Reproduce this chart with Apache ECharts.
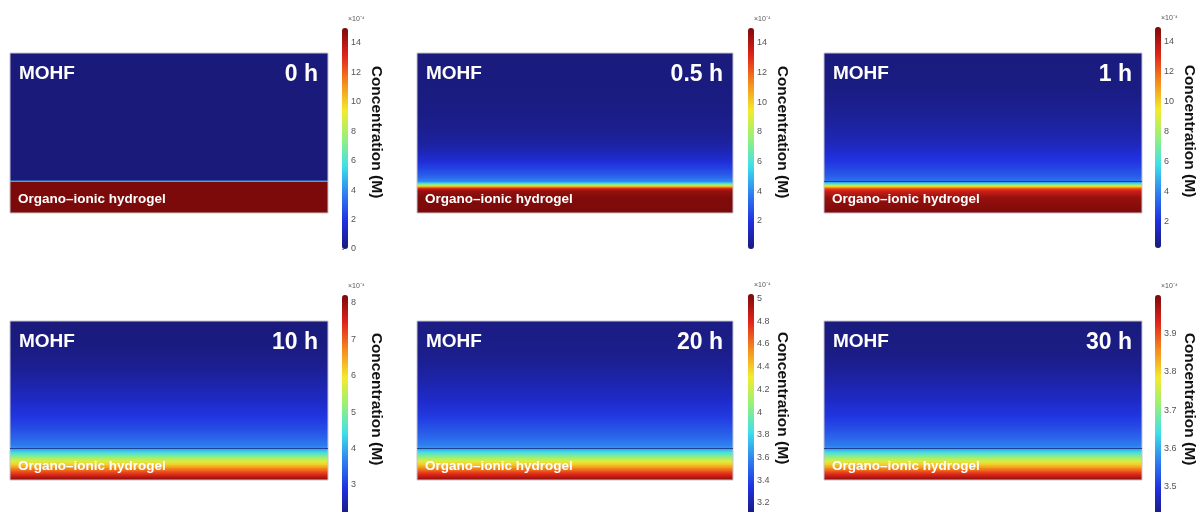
<!DOCTYPE html>
<html>
<head>
<meta charset="utf-8">
<script src="https://cdn.jsdelivr.net/npm/echarts@6/dist/echarts.min.js"></script>
<style>
  html, body { margin: 0; padding: 0; background: #ffffff; }
  #chart { width: 1197px; height: 512px; }
</style>
</head>
<body>
<div id="chart"></div>
<script>
// Snapshot labels
const timeLabels = ['0 h', '0.5 h', '1 h', '10 h', '20 h', '30 h'];
const upperLayerName = 'MOHF';
const lowerLayerName = 'Organo–ionic hydrogel';
const colorbarTitle = 'Concentration (M)';
const colorbarUnit = '×10⁻⁴';

// Height above the bottom of the domain (mm): hydrogel 0–1, MOHF 1–5
const height0h = [0, 0.99, 1.0, 1.03, 1.04, 5.0];
const heightEarly = [0, 0.5, 0.7, 0.75, 0.8, 0.85, 0.9, 0.95, 1.0, 1.1, 1.2, 1.4, 1.6, 1.8, 2.0, 2.2, 2.6, 3.0, 3.5, 4.0, 5.0];
const heightLate = [0, 0.1, 0.2, 0.3, 0.4, 0.5, 0.6, 0.7, 0.8, 0.9, 1.0, 1.1, 1.3, 1.6, 2.0, 2.5, 3.0, 3.5, 4.0, 4.5, 5.0];

// Concentration profiles (×10⁻⁴ M)
const conc0h  = [15, 15, 5.0, 5.0, 0, 0];
const conc05h = [15.0, 14.9, 14.5, 13.9, 12.6, 10.0, 7.6, 5.4, 4.0, 3.4, 3.0, 2.4, 1.85, 1.4, 1.05, 0.8, 0.5, 0.35, 0.25, 0.2, 0.15];
const conc1h  = [15.0, 14.5, 13.5, 12.9, 11.6, 9.6, 7.3, 5.3, 3.6, 3.3, 3.0, 2.6, 2.2, 1.9, 1.6, 1.35, 1.0, 0.75, 0.5, 0.35, 0.25];
const conc10h = [8.1, 7.8, 7.4, 7.05, 6.65, 6.2, 5.8, 5.4, 4.9, 4.4, 3.9, 3.7, 3.52, 3.28, 3.04, 2.8, 2.62, 2.44, 2.33, 2.29, 2.26];
const conc20h = [5.0, 4.9, 4.79, 4.67, 4.54, 4.4, 4.27, 4.13, 3.98, 3.83, 3.66, 3.6, 3.54, 3.47, 3.39, 3.31, 3.25, 3.2, 3.16, 3.15, 3.14];
const conc30h = [3.99, 3.96, 3.926, 3.89, 3.85, 3.81, 3.77, 3.73, 3.687, 3.64, 3.59, 3.573, 3.555, 3.533, 3.51, 3.487, 3.47, 3.453, 3.441, 3.439, 3.436];

// Colour range of each snapshot (×10⁻⁴ M)
const rangeMin = [0, 0.1, 0.2, 2.25, 3.12, 3.434];
const rangeMax = [15, 15, 15, 8.22, 5.04, 4.0];

// Colorbar tick labels
const ticks0h  = [0, 2, 4, 6, 8, 10, 12, 14];
const ticks05h = [2, 4, 6, 8, 10, 12, 14];
const ticks1h  = [2, 4, 6, 8, 10, 12, 14];
const ticks10h = [3, 4, 5, 6, 7, 8];
const ticks20h = [3.2, 3.4, 3.6, 3.8, 4, 4.2, 4.4, 4.6, 4.8, 5];
const ticks30h = [3.5, 3.6, 3.7, 3.8, 3.9];

// Layer boundary height (mm)
const interfaceHeight = 1.0;

const profiles = [
  { h: height0h,    c: conc0h,  ticks: ticks0h,  edge: false },
  { h: heightEarly, c: conc05h, ticks: ticks05h, edge: false },
  { h: heightEarly, c: conc1h,  ticks: ticks1h,  edge: true },
  { h: heightLate,  c: conc10h, ticks: ticks10h, edge: true },
  { h: heightLate,  c: conc20h, ticks: ticks20h, edge: true },
  { h: heightLate,  c: conc30h, ticks: ticks30h, edge: true }
];

// ---- layout & style ----
const panelBox = [
  [10, 53, 318, 160], [417, 53, 316, 160], [824, 53, 318, 160],
  [10, 321, 318, 159], [417, 321, 316, 159], [824, 321, 318, 159]
];
const barPos = [[342, 28], [748, 28], [1155, 27], [342, 295], [748, 294], [1155, 295]];
const BAR_W = 6, BAR_H = 221;
const FONT = '"Liberation Sans", Arial, sans-serif';

// jet-like palette
const jet = ['#1a1a7a', '#2030e0', '#2f80f0', '#3ee0ea', '#96f07a', '#f2ec2c', '#f58c1e', '#e0241a', '#7c0a0a'];

function colorOf(v, i) {
  const t = Math.max(0, Math.min(1, (v - rangeMin[i]) / (rangeMax[i] - rangeMin[i])));
  return echarts.color.lerp(t, jet);
}

function renderBand(params, api) {
  const i = params.seriesIndex;
  const h0 = api.value(0), h1 = api.value(1), v0 = api.value(2), v1 = api.value(3);
  const bl = api.coord([0, h0]);
  const tr = api.coord([1, h1]);
  const extra = params.dataIndex === 0 ? 0 : 0.7;
  return {
    type: 'rect',
    silent: true,
    shape: { x: bl[0], y: tr[1], width: tr[0] - bl[0], height: bl[1] - tr[1] + extra },
    style: {
      fill: new echarts.graphic.LinearGradient(0, 1, 0, 0, [
        { offset: 0, color: colorOf(v0, i) },
        { offset: 1, color: colorOf(v1, i) }
      ])
    }
  };
}

const grid = [], xAxis = [], yAxis = [], series = [], visualMap = [], graphic = [];
const N = profiles.length;

// concentration panels: grids / axes 0..5
profiles.forEach((p, i) => {
  const [L, T, W, H] = panelBox[i];
  grid.push({ left: L, top: T, width: W, height: H, show: true, z: 5,
              backgroundColor: 'transparent', borderColor: '#c4c4d0', borderWidth: 1 });
  xAxis.push({ type: 'value', gridIndex: i, min: 0, max: 1, show: false });
  yAxis.push({ type: 'value', gridIndex: i, min: 0, max: 5, show: false });

  const bands = [];
  for (let k = 0; k < p.h.length - 1; k++) {
    bands.push([p.h[k], p.h[k + 1], p.c[k], p.c[k + 1]]);
  }
  const s = {
    type: 'custom', xAxisIndex: i, yAxisIndex: i, silent: true,
    renderItem: renderBand, data: bands, animation: false
  };
  if (p.edge) {
    s.markLine = {
      silent: true, symbol: 'none', animation: false,
      label: { show: false },
      lineStyle: { color: '#1c3a86', width: 1, type: 'solid', opacity: 0.9 },
      data: [{ yAxis: interfaceHeight }]
    };
  }
  series.push(s);

  const [bx, by] = barPos[i];
  visualMap.push({
    type: 'continuous', seriesIndex: i, dimension: 2,
    min: rangeMin[i], max: rangeMax[i], calculable: false, orient: 'vertical',
    left: bx, top: by, itemWidth: BAR_W, itemHeight: BAR_H, padding: 0,
    text: null, hoverLink: false, inRange: { color: jet }
  });

  // texts
  graphic.push({ type: 'text', x: L + 9, y: T + 20.5, z: 50, silent: true,
    style: { text: upperLayerName, font: 'bold 19px ' + FONT, fill: '#ffffff', align: 'left', verticalAlign: 'middle' } });
  graphic.push({ type: 'text', x: L + W - 10, y: T + 21.5, z: 50, silent: true,
    style: { text: timeLabels[i], font: 'bold 23px ' + FONT, fill: '#ffffff', align: 'right', verticalAlign: 'middle' } });
  graphic.push({ type: 'text', x: L + 8, y: T + H - 13.5, z: 50, silent: true,
    style: { text: lowerLayerName, font: 'bold 13.5px ' + FONT, fill: '#ffffff', align: 'left', verticalAlign: 'middle' } });
  graphic.push({ type: 'text', x: bx + 6, y: by - 9, z: 50, silent: true,
    style: { text: colorbarUnit, font: '7px ' + FONT, fill: '#555', align: 'left', verticalAlign: 'middle' } });
  graphic.push({ type: 'text', x: bx + 34, y: by + 104, rotation: -Math.PI / 2, z: 50, silent: true,
    style: { text: colorbarTitle, font: 'bold 15.5px ' + FONT, fill: '#111', align: 'center', verticalAlign: 'middle' } });
});

// colorbar tick axes: grids / axes 6..11
profiles.forEach((p, i) => {
  const g = N + i;
  const [bx, by] = barPos[i];
  grid.push({ left: bx, top: by, width: BAR_W, height: BAR_H, show: false });
  xAxis.push({ type: 'value', gridIndex: g, min: 0, max: 1, show: false });
  yAxis.push({
    type: 'value', gridIndex: g, min: rangeMin[i], max: rangeMax[i], position: 'right',
    axisLine: { show: false }, splitLine: { show: false },
    axisTick: { show: true, length: 2, lineStyle: { color: '#8a8a8a', width: 1 }, customValues: p.ticks },
    axisLabel: { show: true, customValues: p.ticks, fontSize: 9, color: '#555', margin: 3, fontFamily: FONT }
  });
});

const chart = echarts.init(document.getElementById('chart'), null, { renderer: 'canvas' });
chart.setOption({
  backgroundColor: '#ffffff',
  animation: false,
  grid, xAxis, yAxis, series, visualMap, graphic
});
</script>
</body>
</html>
